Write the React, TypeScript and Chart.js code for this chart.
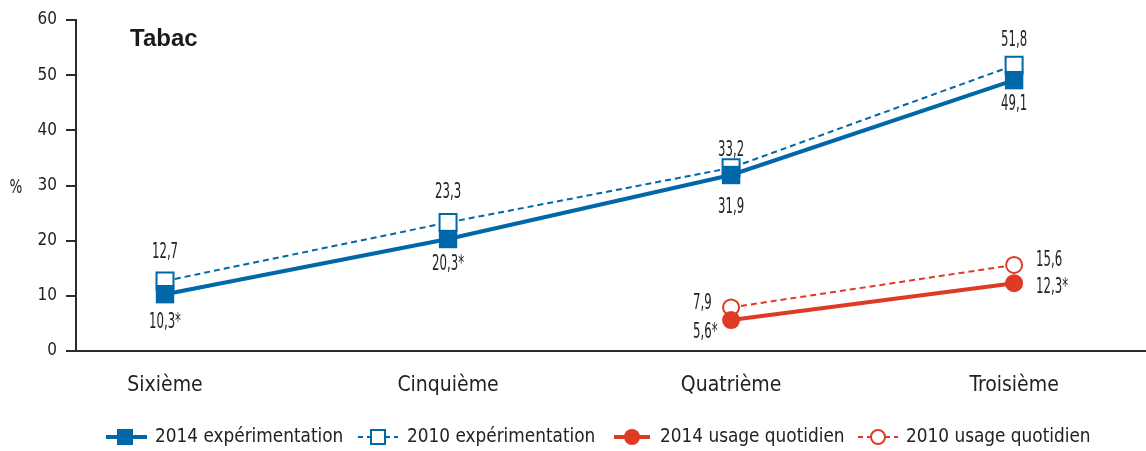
import React, { useEffect, useRef } from "react";
import { Chart, registerables } from "chart.js";

Chart.register(...registerables);

const categories = ["Sixième", "Cinquième", "Quatrième", "Troisième"];
const exp2014 = [10.3, 20.3, 31.9, 49.1];
const exp2010 = [12.7, 23.3, 33.2, 51.8];
const quot2014 = [null, null, 5.6, 12.3];
const quot2010 = [null, null, 7.9, 15.6];
const exp2014Labels = ["10,3*", "20,3*", "31,9", "49,1"];
const exp2010Labels = ["12,7", "23,3", "33,2", "51,8"];
const quot2014Labels = ["", "", "5,6*", "12,3*"];
const quot2010Labels = ["", "", "7,9", "15,6"];
const seriesNames = ["2014 expérimentation", "2010 expérimentation", "2014 usage quotidien", "2010 usage quotidien"];
const yTicks = [0, 10, 20, 30, 40, 50, 60];
const chartTitle = "Tabac";
const yTitle = "%";

const BLUE = "#0067a9";
const RED = "#df3b24";
const AXIS = "#2b2b2b";
const TEXT = "#222";
const FONT = "'DejaVu Sans Condensed', 'Liberation Sans Narrow', 'Roboto', sans-serif";

// label placement (dx, dy, align) per dataset point
const labelPlacement = [
  [[0, 28, "center"], [0, 26, "center"], [0, 33, "center"], [0, 24, "center"]],
  [[0, -28, "center"], [0, -30, "center"], [0, -17, "center"], [0, -25, "center"]],
  [null, null, [-38, 12, "left"], [22, 4, "left"]],
  [null, null, [-38, -4, "left"], [22, -4, "left"]],
];
const allLabels = [exp2014Labels, exp2010Labels, quot2014Labels, quot2010Labels];

const toXY = (arr: (number | null)[]) => arr.map((v, i) => ({ x: i, y: v }));

const drawMarker = (ctx: CanvasRenderingContext2D, kind: string, x: number, y: number, color: string) => {
  ctx.save();
  ctx.lineWidth = 2;
  ctx.strokeStyle = color;
  if (kind === "rectFill") {
    ctx.fillStyle = color;
    ctx.fillRect(x - 8, y - 8, 16, 16);
  } else if (kind === "rectOpen") {
    ctx.fillStyle = "#fff";
    ctx.fillRect(x - 7, y - 7, 14, 14);
    ctx.strokeRect(x - 7, y - 7, 14, 14);
  } else if (kind === "circFill") {
    ctx.fillStyle = color;
    ctx.beginPath();
    ctx.arc(x, y, 8, 0, Math.PI * 2);
    ctx.fill();
  } else {
    ctx.fillStyle = "#fff";
    ctx.beginPath();
    ctx.arc(x, y, 7, 0, Math.PI * 2);
    ctx.fill();
    ctx.stroke();
  }
  ctx.restore();
};

const drawText = (
  ctx: CanvasRenderingContext2D,
  txt: string,
  x: number,
  y: number,
  align: string,
  sx: number
) => {
  ctx.save();
  ctx.translate(x, y);
  ctx.scale(sx, 1);
  ctx.textAlign = align as CanvasTextAlign;
  ctx.textBaseline = "middle";
  ctx.fillText(txt, 0, 0);
  ctx.restore();
};

const extrasPlugin = {
  id: "extras",
  afterDatasetsDraw(chart: any) {
    const ctx = chart.ctx as CanvasRenderingContext2D;
    const area = chart.chartArea;
    ctx.save();
    // data labels
    ctx.font = `21px ${FONT}`;
    ctx.fillStyle = TEXT;
    chart.data.datasets.forEach((ds: any, di: number) => {
      const meta = chart.getDatasetMeta(di);
      meta.data.forEach((pt: any, i: number) => {
        const pl = labelPlacement[di][i];
        const txt = allLabels[di][i];
        if (!pl || !txt || pt.skip) return;
        drawText(ctx, txt, pt.x + (pl[0] as number), pt.y + (pl[1] as number), pl[2] as string, 0.62);
      });
    });
    // title
    ctx.font = `bold 24px 'Liberation Sans', Arial, sans-serif`;
    ctx.fillStyle = "#1a1a1a";
    drawText(ctx, chartTitle, area.left + 54, 39, "left", 1);
    // y title
    ctx.font = `20px ${FONT}`;
    ctx.fillStyle = TEXT;
    drawText(ctx, yTitle, 16, 188, "center", 0.75);
    // legend
    const ly = 437;
    const items = [
      { x1: 106, x2: 147, mx: 125, tx: 155, color: BLUE, dash: false, w: 4, m: "rectFill" },
      { x1: 358, x2: 398, mx: 378, tx: 407, color: BLUE, dash: true, w: 2, m: "rectOpen" },
      { x1: 614, x2: 650, mx: 632, tx: 660, color: RED, dash: false, w: 4, m: "circFill" },
      { x1: 858, x2: 898, mx: 878, tx: 906, color: RED, dash: true, w: 2, m: "circOpen" },
    ];
    items.forEach((it, k) => {
      ctx.save();
      ctx.strokeStyle = it.color;
      ctx.lineWidth = it.w;
      ctx.setLineDash(it.dash ? [5, 4] : []);
      ctx.beginPath();
      ctx.moveTo(it.x1, ly);
      ctx.lineTo(it.x2, ly);
      ctx.stroke();
      ctx.restore();
      drawMarker(ctx, it.m, it.mx, ly, it.color);
      ctx.font = `20px ${FONT}`;
      ctx.fillStyle = TEXT;
      drawText(ctx, seriesNames[k], it.tx, ly, "left", 0.94);
    });
    ctx.restore();
  },
};

export default function App() {
  const ref = useRef<HTMLCanvasElement | null>(null);
  useEffect(() => {
    if (!ref.current) return;
    const chart = new Chart(ref.current, {
      type: "line",
      data: {
        datasets: [
          {
            label: seriesNames[0],
            data: toXY(exp2014) as any,
            borderColor: BLUE,
            backgroundColor: BLUE,
            borderWidth: 4,
            pointStyle: "rect",
            pointRadius: 13,
            pointBorderWidth: 0,
            pointBackgroundColor: BLUE,
            pointBorderColor: BLUE,
          },
          {
            label: seriesNames[1],
            data: toXY(exp2010) as any,
            borderColor: BLUE,
            borderWidth: 2,
            borderDash: [6, 4],
            pointStyle: "rect",
            pointRadius: 12,
            pointBorderWidth: 2,
            pointBackgroundColor: "#fff",
            pointBorderColor: BLUE,
          },
          {
            label: seriesNames[2],
            data: toXY(quot2014) as any,
            borderColor: RED,
            backgroundColor: RED,
            borderWidth: 4,
            pointStyle: "circle",
            pointRadius: 9,
            pointBorderWidth: 0,
            pointBackgroundColor: RED,
            pointBorderColor: RED,
          },
          {
            label: seriesNames[3],
            data: toXY(quot2010) as any,
            borderColor: RED,
            borderWidth: 2,
            borderDash: [6, 4],
            pointStyle: "circle",
            pointRadius: 8,
            pointBorderWidth: 2,
            pointBackgroundColor: "#fff",
            pointBorderColor: RED,
          },
        ],
      },
      options: {
        animation: false,
        responsive: false,
        maintainAspectRatio: false,
        spanGaps: false,
        layout: { autoPadding: false, padding: { top: 20, bottom: 50, left: 0, right: 0 } },
        plugins: { legend: { display: false }, tooltip: { enabled: false }, title: { display: false } },
        scales: {
          x: {
            type: "linear",
            min: -0.3145,
            max: 3.466,
            afterBuildTicks: (s: any) => {
              s.ticks = categories.map((_, i) => ({ value: i }));
            },
            afterFit: (s: any) => {
              s.height = 50;
              s.paddingLeft = 0;
              s.paddingRight = 0;
            },
            grid: { display: false },
            border: { display: true, color: AXIS, width: 2 },
            ticks: {
              padding: 14,
              color: TEXT,
              font: { family: FONT, size: 21 },
              callback: (v: any) => categories[v] ?? "",
            },
          },
          y: {
            min: 0,
            max: 60,
            afterBuildTicks: (s: any) => {
              s.ticks = yTicks.map((v) => ({ value: v }));
            },
            afterFit: (s: any) => {
              s.width = 76;
              s.paddingTop = 0;
              s.paddingBottom = 0;
            },
            grid: { display: true, drawOnChartArea: false, drawTicks: true, tickLength: 10, color: AXIS, lineWidth: 2 },
            border: { display: true, color: AXIS, width: 2 },
            ticks: {
              padding: 9,
              color: TEXT,
              font: { family: FONT, size: 17 },
              callback: (v: any) => String(v),
            },
          },
        },
      },
      plugins: [extrasPlugin],
    });
    return () => chart.destroy();
  }, []);
  return (
    <div style={{ position: "fixed", left: 0, top: 0, width: 1146, height: 451, background: "#fff" }}>
      <canvas ref={ref} width={1146} height={451} style={{ width: 1146, height: 451 }} />
    </div>
  );
}
